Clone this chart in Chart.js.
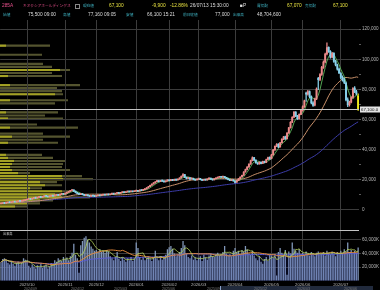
<!DOCTYPE html>
<html lang="ja">
<head>
<meta charset="utf-8">
<title>285A キオクシアホールディングス</title>
<script src="https://cdn.jsdelivr.net/npm/chart.js@4.4.1/dist/chart.umd.min.js"></script>
<style>
  html, body { margin: 0; padding: 0; background: #000; }
  body { width: 380px; height: 290px; position: relative; overflow: hidden;
         font-family: "Liberation Sans", "Noto Sans CJK JP", sans-serif; }
  canvas { position: absolute; left: 0; }
  #profile { top: 29px; }
  #main { top: 0; }
  .t { position: absolute; white-space: nowrap; font-size: 4.8px; line-height: 6px; color: #dcdcdc; }
  .j { font-family: "Noto Sans CJK JP", sans-serif; font-size: 3.7px; }
  .lb { color: #3fb4c4; }
  .pk { color: #e8508c; }
  .yl { color: #e6e040; }
  .nv { font-size: 3.6px; color: #7a7a7a; }
  #nav { position: absolute; left: 220px; top: 286px; width: 152px; height: 5px;
         background: rgba(110, 140, 200, 0.3); border-left: 1px solid #8aa0c8; }
</style>
</head>
<body>
<canvas id="profile" width="359" height="182"></canvas>
<canvas id="main" width="380" height="290"></canvas>

<!-- quote header -->
<span class="t pk" style="left:2px;top:3px">285A</span>
<span class="t pk j" style="left:23px;top:3px">キオクシアホールディングス</span>
<span class="t" style="left:75px;top:4px;width:3px;height:3px;border:1px solid #888"></span>
<span class="t lb j" style="left:83px;top:3px">現在値</span>
<span class="t yl" style="left:109px;top:3px">67,100</span>
<span class="t yl" style="left:152px;top:3px">-9,900</span>
<span class="t yl" style="left:170px;top:3px">-12.86%</span>
<span class="t" style="left:190px;top:3px">26/07/13 15:30:00</span>
<span class="t" style="left:240px;top:3px">■P</span>
<span class="t lb j" style="left:257px;top:3px">買気配</span>
<span class="t yl" style="left:287px;top:3px">67,070</span>
<span class="t lb j" style="left:305px;top:3px">売気配</span>
<span class="t yl" style="left:333px;top:3px">67,100</span>

<span class="t lb j" style="left:3px;top:12px">始値</span>
<span class="t" style="left:28px;top:12px">75,500 09:00</span>
<span class="t lb j" style="left:63px;top:12px">高値</span>
<span class="t" style="left:88px;top:12px">77,160 09:05</span>
<span class="t lb j" style="left:126px;top:12px">安値</span>
<span class="t" style="left:147px;top:12px">66,100 15:21</span>
<span class="t lb j" style="left:183px;top:12px">前日終値</span>
<span class="t" style="left:215px;top:12px">77,000</span>
<span class="t lb j" style="left:233px;top:12px">出来高</span>
<span class="t" style="left:257px;top:12px">48,704,600</span>

<span class="t j" style="left:3px;top:231px;color:#c8c8c8;font-size:3.2px">出来高</span>

<!-- navigator strip -->
<div id="nav"></div>
<span class="t nv" style="left:24px;top:286px">2024/09</span>
<span class="t nv" style="left:71px;top:286px">2024/12</span>
<span class="t nv" style="left:114px;top:286px">2025/03</span>
<span class="t nv" style="left:162px;top:286px">2025/06</span>
<span class="t nv" style="left:207px;top:286px">2025/09</span>
<span class="t nv" style="left:254px;top:286px">2025/12</span>
<span class="t nv" style="left:297px;top:286px">2026/03</span>
<span class="t nv" style="left:344px;top:286px">2026/06</span>

<script>
// 285A daily candles 2025/09 - 2026/07, prices in thousand yen
const opens = [
  4.1, 4.3, 4.6, 4.5, 4.8, 5.1, 4.9, 5.2, 5.5, 5.3, 5.6, 5.9, 5.7, 6.0, 6.2,
  6.6, 7.1, 7.4, 7.2, 7.7, 8.1, 7.9, 8.3, 8.6, 8.4, 8.9, 9.3, 9.0, 8.8, 9.2, 9.5, 9.3, 9.7, 10.0, 9.8, 10.3, 10.7,
  10.5, 11.1, 11.7, 12.3, 12.9, 13.3, 12.5, 11.6, 10.9, 10.2, 10.7, 10.2, 9.5, 10.0, 9.5, 9.0, 9.6, 9.3,
  9.1, 9.4, 9.7, 9.5, 9.9, 10.2, 10.0, 10.4, 10.1, 10.5, 10.8, 10.6, 11.0, 11.3, 11.1, 11.5, 11.8, 11.6, 12.0, 12.3, 12.1, 12.5, 12.2,
  12.6, 12.9, 12.5, 13.2, 13.0, 13.5, 14.0, 14.7, 15.5, 16.4, 17.3, 18.0, 18.8, 19.4, 18.9, 19.6, 19.2, 18.7, 19.3,
  19.9, 19.5, 20.2, 19.7, 20.4, 19.9, 20.6, 21.3, 22.5, 23.4, 21.7, 20.9, 21.4, 20.6, 21.0, 20.3, 19.9,
  20.5, 20.9, 20.2, 19.7, 20.3, 19.9, 20.6, 21.1, 20.5, 20.0, 20.7, 21.2, 21.7, 22.1, 21.8, 22.3, 21.6, 20.8, 20.2, 19.6, 20.0,
  19.1, 18.4, 19.6, 20.7, 21.9, 23.1, 25.3, 26.9, 28.6, 30.5, 32.9, 34.7, 33.1, 31.3, 30.6, 31.7, 30.9, 32.3, 31.6, 33.5, 34.9,
  34.0, 36.6, 39.9, 42.3, 43.6, 41.9, 44.7, 47.0, 48.6, 47.3, 51.1, 54.6, 58.3, 61.6, 64.9, 62.4, 60.6, 63.5,
  66.0, 68.6, 77.6, 76.9, 78.6, 75.3, 71.1, 69.5, 73.7, 87.4, 86.6, 89.9, 94.7, 98.3, 103.6, 107.9, 105.3, 101.5, 103.9, 98.7, 96.3, 93.6,
  90.6, 88.1, 86.4, 84.2, 73.1, 69.9, 71.6, 74.7, 80.9, 78.6, 75.5
];
const highs = [
  4.4, 4.6, 4.7, 4.9, 5.1, 5.2, 5.3, 5.5, 5.6, 5.7, 5.9, 6.0, 6.1, 6.3, 6.6,
  7.1, 7.5, 7.5, 7.7, 8.2, 8.2, 8.4, 8.7, 8.7, 8.9, 9.4, 9.4, 9.1, 9.2, 9.6, 9.6, 9.8, 10.1, 10.1, 10.4, 10.8, 10.9,
  11.2, 11.8, 12.4, 13.0, 13.6, 13.4, 12.6, 11.7, 11.0, 10.8, 10.8, 10.3, 10.1, 10.1, 9.6, 9.6, 9.7, 9.4,
  9.4, 9.7, 9.8, 9.9, 10.2, 10.3, 10.4, 10.5, 10.5, 10.8, 10.9, 11.0, 11.3, 11.4, 11.5, 11.8, 11.9, 12.0, 12.3, 12.4, 12.5, 12.6, 12.6,
  13.0, 13.0, 13.3, 13.3, 13.6, 14.1, 14.8, 15.6, 16.5, 17.4, 18.1, 18.9, 19.6, 19.5, 19.7, 19.8, 19.3, 19.4, 20.0,
  20.0, 20.3, 20.3, 20.5, 20.5, 20.7, 21.4, 22.6, 24.2, 23.6, 21.9, 21.5, 21.5, 21.1, 21.1, 20.4, 20.6,
  21.0, 21.0, 20.3, 20.3, 20.4, 20.6, 21.2, 21.2, 20.6, 20.8, 21.3, 21.8, 22.2, 22.3, 22.4, 22.4, 21.7, 20.9, 20.3, 20.1, 20.1,
  19.3, 19.7, 20.8, 22.0, 23.2, 25.5, 27.1, 28.8, 30.7, 33.1, 35.2, 35.0, 33.3, 31.5, 31.9, 31.8, 32.5, 32.5, 33.7, 35.1, 35.3,
  36.9, 40.2, 42.6, 44.1, 44.0, 44.9, 47.3, 48.9, 49.0, 51.4, 54.9, 58.7, 62.0, 65.5, 65.3, 62.8, 63.8, 66.8,
  69.2, 73.0, 78.3, 79.4, 79.0, 75.8, 71.9, 74.2, 81.0, 88.0, 90.5, 95.3, 99.0, 104.2, 111.0, 108.3, 105.8, 104.6, 104.5, 99.4, 96.9, 94.1,
  91.2, 89.0, 87.5, 85.0, 74.5, 72.3, 75.2, 81.3, 81.9, 79.4, 77.16
];
const lows = [
  4.0, 4.2, 4.3, 4.4, 4.7, 4.8, 4.8, 5.1, 5.2, 5.2, 5.5, 5.6, 5.6, 5.9, 6.1,
  6.5, 7.0, 7.0, 7.1, 7.6, 7.7, 7.8, 8.2, 8.2, 8.3, 8.8, 8.9, 8.6, 8.7, 9.1, 9.1, 9.2, 9.6, 9.6, 9.7, 10.2, 10.3,
  10.4, 11.0, 11.6, 12.2, 12.7, 12.2, 11.3, 10.6, 10.1, 10.1, 10.0, 9.5, 9.4, 9.3, 8.9, 8.9, 9.1, 8.8,
  9.0, 9.3, 9.3, 9.4, 9.8, 9.8, 9.9, 9.9, 10.0, 10.4, 10.4, 10.5, 10.9, 10.9, 11.0, 11.4, 11.4, 11.5, 11.9, 11.9, 12.0, 12.0, 12.1,
  12.4, 12.2, 12.4, 12.8, 12.9, 13.4, 13.9, 14.6, 15.4, 16.3, 17.1, 17.8, 18.6, 18.6, 18.7, 19.0, 18.4, 18.5, 19.1,
  19.2, 19.4, 19.4, 19.6, 19.6, 19.8, 20.5, 21.2, 22.3, 21.4, 20.6, 20.7, 20.3, 20.4, 20.0, 19.6, 19.8,
  20.3, 20.0, 19.4, 19.6, 19.7, 19.8, 20.4, 20.3, 19.8, 19.9, 20.6, 21.1, 21.6, 21.6, 21.7, 21.4, 20.6, 20.0, 19.4, 19.4, 19.1,
  18.0, 18.2, 19.4, 20.5, 21.7, 22.9, 25.0, 26.6, 28.3, 30.2, 32.6, 32.7, 31.0, 30.2, 30.4, 30.5, 30.7, 31.3, 31.4, 33.3, 33.6,
  33.8, 36.3, 39.6, 42.0, 41.4, 41.6, 44.4, 46.7, 46.8, 47.0, 50.8, 54.3, 58.0, 61.3, 62.0, 60.1, 60.3, 63.2,
  65.6, 68.0, 72.0, 76.2, 74.6, 70.4, 68.8, 69.0, 73.2, 79.8, 85.9, 89.3, 94.0, 97.6, 103.0, 104.6, 100.8, 100.9, 98.0, 95.6, 92.8, 90.4,
  87.2, 85.5, 83.8, 72.4, 68.6, 68.9, 71.0, 74.2, 77.8, 76.4, 66.1
];
const closes = [
  4.3, 4.5, 4.4, 4.8, 5.0, 4.9, 5.2, 5.4, 5.3, 5.6, 5.8, 5.7, 6.0, 6.2, 6.5,
  7.0, 7.3, 7.1, 7.6, 8.0, 7.8, 8.2, 8.5, 8.3, 8.8, 9.2, 9.0, 8.7, 9.1, 9.4, 9.2, 9.6, 9.9, 9.7, 10.2, 10.6, 10.4,
  11.0, 11.6, 12.2, 12.8, 13.2, 12.4, 11.5, 10.8, 10.3, 10.6, 10.1, 9.6, 9.9, 9.4, 9.1, 9.5, 9.2, 9.0,
  9.3, 9.6, 9.4, 9.8, 10.1, 9.9, 10.3, 10.0, 10.4, 10.7, 10.5, 10.9, 11.2, 11.0, 11.4, 11.7, 11.5, 11.9, 12.2, 12.0, 12.4, 12.1, 12.5,
  12.8, 12.4, 13.1, 12.9, 13.4, 13.9, 14.6, 15.4, 16.3, 17.2, 17.9, 18.7, 19.3, 18.8, 19.5, 19.1, 18.6, 19.2, 19.8,
  19.4, 20.1, 19.6, 20.3, 19.8, 20.5, 21.2, 22.4, 23.5, 21.6, 20.8, 21.3, 20.5, 20.9, 20.2, 19.8, 20.4,
  20.8, 20.1, 19.6, 20.2, 19.8, 20.5, 21.0, 20.4, 19.9, 20.6, 21.1, 21.6, 22.0, 21.7, 22.2, 21.5, 20.7, 20.1, 19.5, 19.9, 19.2,
  18.3, 19.5, 20.6, 21.8, 23.0, 25.2, 26.8, 28.5, 30.4, 32.8, 34.6, 33.0, 31.2, 30.5, 31.6, 30.8, 32.2, 31.5, 33.4, 34.8, 33.9,
  36.5, 39.8, 42.2, 43.5, 41.8, 44.6, 46.9, 48.5, 47.2, 51.0, 54.5, 58.2, 61.5, 64.8, 62.3, 60.5, 63.4, 66.2,
  68.5, 72.4, 76.8, 78.5, 75.2, 71.0, 69.4, 73.6, 80.2, 86.5, 89.8, 94.6, 98.2, 103.5, 107.8, 105.2, 101.4, 103.8, 98.6, 96.2, 93.5, 91.0,
  88.0, 86.2, 84.6, 73.0, 69.8, 71.5, 74.6, 80.6, 78.4, 77.0, 67.1
];
// daily volume, million shares
const volumes = [
  27, 32, 33, 30, 26, 24, 29, 25, 22, 26, 28, 24, 27, 33, 31,
  30, 22, 19, 24, 21, 18, 23, 20, 25, 19, 22, 24, 18, 21, 26, 23, 30, 28, 33, 31, 29, 35,
  32, 34, 30, 36, 41, 54, 38, 33, 12, 52, 58, 63, 65, 60, 56, 50, 47, 44,
  45, 43, 46, 42, 44, 41, 45, 43, 36, 33, 30, 35, 42, 32, 29, 34, 31, 28, 33, 30, 35, 29, 32,
  56, 48, 35, 31, 34, 30, 33, 36, 32, 29, 35, 44, 33, 30, 36, 31, 34, 38, 46,
  49, 51, 47, 40, 36, 38, 42, 48, 58, 52, 40, 35, 33, 37, 31, 34, 30,
  33, 36, 29, 38, 34, 31, 37, 40, 36, 35, 39, 41, 37, 38, 42, 51, 40, 37, 39, 36, 44,
  48, 42, 44, 39, 45, 43, 51, 46, 40, 38, 44, 37, 33, 30, 36, 28, 25, 32, 35, 29, 38,
  37, 34, 39, 8, 42, 48, 41, 38, 45, 9, 43, 40, 56, 47, 44, 41, 46, 39,
  41, 38, 43, 40, 37, 42, 39, 36, 41, 43, 38, 40, 42, 37, 44, 41, 39, 43, 40, 36, 42, 39,
  44, 41, 46, 43, 56, 42, 45, 40, 44, 41, 48.7
];

// first session of each month on the axis
const monthStarts = [15, 37, 55, 78, 97, 114, 135, 156, 174, 196];
const monthLabels = ['2025/10', '2025/11', '2025/12', '2026/01', '2026/02', '2026/03', '2026/04', '2026/05', '2026/06', '2026/07'];

// volume by price, 2,000-yen bands from 0 up to 120,000 (relative)
const bandTotal = [
  0, 27, 40, 53, 90, 67, 70, 42, 62, 57,
  93, 82, 30, 70, 62, 63, 65, 53, 42, 0,
  0, 0, 58, 43, 70, 43, 0, 78, 37, 0,
  63, 45, 58, 0, 0, 55, 68, 0, 63, 62,
  57, 80, 0, 0, 62, 52, 70, 52, 43, 0,
  0, 42, 0, 0, 50, 0, 0, 0, 0, 0
];
const bandActive = [
  0, 15, 28, 40, 62, 55, 62, 30, 45, 40,
  63, 62, 18, 12, 10, 12, 14, 8, 6, 0,
  0, 0, 8, 0, 12, 0, 0, 10, 0, 0,
  8, 0, 6, 0, 0, 0, 10, 0, 55, 0,
  0, 10, 0, 0, 8, 0, 60, 0, 0, 0,
  0, 0, 0, 0, 6, 0, 0, 0, 0, 0
];

const GRID = '#3c3c3c';
const AXIS_TEXT = '#b4b4b4';
Chart.defaults.font.family = '"Liberation Sans", sans-serif';

// simple moving average (uses what is available at the start)
function movingAverage(src, n) {
    return src.map((_, i) => {
        const win = src.slice(Math.max(0, i - n + 1), i + 1);
        return win.reduce((a, b) => a + b, 0) / win.length;
    });
}

const lastIdx = closes.length - 1;
const candleColors = closes.map((c, i) => {
    if (i === lastIdx) return '#f2ee1c';
    return c >= opens[i] ? '#ec8a8a' : '#88d2ec';
});

function lineSet(label, data, color, axis, order, extra) {
    return Object.assign({
        type: 'line', label: label, data: data, borderColor: color, borderWidth: 1,
        pointRadius: 0, tension: 0, yAxisID: axis, order: order, fill: false
    }, extra || {});
}

// last price line + tag, and the divider between price and volume panes
const priceMarks = {
    id: 'priceMarks',
    afterDatasetsDraw(chart) {
        const { ctx, chartArea, scales } = chart;
        const last = closes[lastIdx];
        const py = Math.round(scales.y.getPixelForValue(last)) + 0.5;
        const sy = Math.round(scales.yv.top) + 0.5;
        ctx.save();
        ctx.strokeStyle = '#c4c4c4';
        ctx.lineWidth = 1;
        ctx.beginPath();
        ctx.moveTo(chartArea.left, py); ctx.lineTo(chartArea.right, py);
        ctx.moveTo(chartArea.left, sy); ctx.lineTo(chartArea.right, sy);
        ctx.stroke();
        ctx.fillStyle = '#e4e4e4';
        ctx.fillRect(chartArea.right + 1, py - 3, 20, 6);
        ctx.fillStyle = '#111';
        ctx.font = '4.4px "Liberation Sans"';
        ctx.textBaseline = 'middle';
        ctx.fillText((last * 1000).toLocaleString('en-US', { minimumFractionDigits: 1 }), chartArea.right + 2, py + 0.3);
        ctx.restore();
    }
};

function onMajor(v, step) {
    const k = Math.round(v);
    return Math.abs(v - k) < 1e-6 && k >= 0 && k % step === 0;
}

new Chart(document.getElementById('main'), {
    type: 'bar',
    data: {
        labels: closes.map((_, i) => i),
        datasets: [
            { label: 'body', data: opens.map((o, i) => [o, closes[i]]), backgroundColor: candleColors,
              barThickness: 1.25, grouped: false, minBarLength: 1, yAxisID: 'y', order: 1 },
            { label: 'wick', data: lows.map((l, i) => [l, highs[i]]), backgroundColor: candleColors,
              barThickness: 0.6, grouped: false, yAxisID: 'y', order: 2 },
            lineSet('MA5', movingAverage(closes, 5), '#5cb85c', 'y', 3, { borderWidth: 0.9 }),
            lineSet('MA25', movingAverage(closes, 25), '#c8906a', 'y', 4),
            lineSet('MA75', movingAverage(closes, 75), '#3c3ca8', 'y', 5),
            lineSet('VMA5', movingAverage(volumes, 5), '#b4d25a', 'yv', 6, { borderWidth: 0.8 }),
            lineSet('VMA25', movingAverage(volumes, 25), '#e0883c', 'yv', 7),
            lineSet('VMA75', movingAverage(volumes, 75), '#5a5ad2', 'yv', 8,
                    { fill: 'origin', backgroundColor: 'rgba(44, 54, 170, 0.18)' }),
            { label: 'volume', data: volumes, backgroundColor: '#8096b8', barPercentage: 0.75,
              categoryPercentage: 1, grouped: false, yAxisID: 'yv', order: 9 }
        ]
    },
    options: {
        responsive: false,
        animation: false,
        devicePixelRatio: 1,
        layout: { padding: { top: 20, left: 0, right: 0, bottom: 2 } },
        plugins: { legend: { display: false }, tooltip: { enabled: false } },
        scales: {
            x: {
                type: 'category',
                offset: true,
                border: { display: false },
                grid: {
                    offset: false,
                    drawTicks: false,
                    color: ctx => monthStarts.includes(ctx.index) ? GRID : 'rgba(0,0,0,0)'
                },
                ticks: {
                    autoSkip: false, maxRotation: 0, padding: 1, color: AXIS_TEXT,
                    font: { size: 4.2 },
                    callback: (v, i) => {
                        const k = monthStarts.indexOf(i);
                        return k < 0 ? '' : monthLabels[k];
                    }
                }
            },
            y: {
                type: 'linear', position: 'right', stack: 'panes', stackWeight: 210.6,
                min: -13.1, max: 126.1,
                border: { display: false },
                grid: {
                    tickLength: 2,
                    color: ctx => onMajor(ctx.tick.value, 20) ? GRID : 'rgba(0,0,0,0)',
                    tickColor: ctx => ctx.tick.value > 0 ? '#5a5a5a' : 'rgba(0,0,0,0)'
                },
                ticks: {
                    stepSize: 10, autoSkip: false, includeBounds: false,
                    padding: 1, color: AXIS_TEXT, font: { size: 4.6 },
                    callback: v => onMajor(v, 20) ? (Math.round(v) * 1000).toLocaleString('en-US') : ''
                },
                afterFit: s => { s.width = 21; }
            },
            yv: {
                type: 'linear', position: 'right', stack: 'panes', stackWeight: 51.5,
                min: 0, max: 74.6,
                border: { display: false },
                grid: {
                    tickLength: 2,
                    color: ctx => ctx.tick.value > 0 ? GRID : 'rgba(0,0,0,0)',
                    tickColor: ctx => ctx.tick.value > 0 ? GRID : 'rgba(0,0,0,0)'
                },
                ticks: {
                    stepSize: 20, autoSkip: false, includeBounds: false,
                    padding: 1, color: AXIS_TEXT, font: { size: 4.6 },
                    callback: v => v > 0 ? (Math.round(v) * 1000).toLocaleString('en-US') + 'K' : ''
                },
                afterFit: s => { s.width = 21; }
            }
        }
    },
    plugins: [priceMarks]
});

// volume-by-price histogram behind the candles
new Chart(document.getElementById('profile'), {
    type: 'bar',
    data: {
        labels: bandTotal.map((_, i) => i * 2),
        datasets: [
            { label: 'active', data: bandActive, backgroundColor: '#a3a124', grouped: false,
              barPercentage: 0.7, categoryPercentage: 1, order: 1 },
            { label: 'total', data: bandTotal, backgroundColor: '#54542f', grouped: false,
              barPercentage: 0.7, categoryPercentage: 1, order: 2 }
        ]
    },
    options: {
        indexAxis: 'y',
        responsive: false,
        animation: false,
        devicePixelRatio: 1,
        layout: { padding: 0 },
        plugins: { legend: { display: false }, tooltip: { enabled: false } },
        scales: {
            x: { display: false, min: 0, max: 359 },
            y: { display: false, reverse: true, offset: true }
        }
    }
});
</script>
</body>
</html>
